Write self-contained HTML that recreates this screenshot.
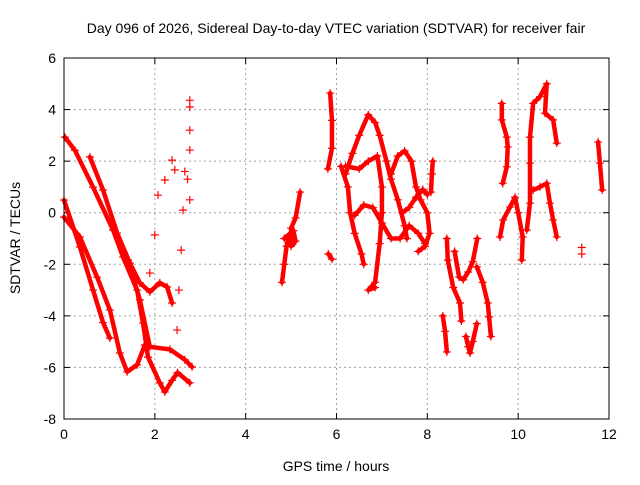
<!DOCTYPE html>
<html><head><meta charset="utf-8"><style>
body{margin:0;background:#fff}
svg text{font-family:"Liberation Sans",sans-serif;font-size:14px;fill:#000}
</style></head><body>
<svg id="chart" width="640" height="480" xmlns="http://www.w3.org/2000/svg">
<rect width="640" height="480" fill="#fff"/>
<text x="336" y="33" text-anchor="middle">Day 096 of 2026, Sidereal Day-to-day VTEC variation (SDTVAR) for receiver fair</text>
<text x="336" y="471" text-anchor="middle">GPS time / hours</text>
<text x="20" y="238" text-anchor="middle" transform="rotate(-90 20 238)">SDTVAR / TECUs</text>
<g id="grid"></g><g id="ticks"></g><g id="marks"></g>
<rect x="64" y="58" width="545" height="361" fill="none" stroke="#000" stroke-width="1"/>
</svg>
<script>
const xTicks=[0,2,4,6,8,10,12];
const yTicks=[-8,-6,-4,-2,0,2,4,6];
const trackA1=[[0.02,2.93],[0.24,2.42],[0.64,0.99],[1.08,-0.67],[1.3,-1.72],[1.61,-3.0],[1.74,-4.28],[1.85,-5.6],[2.11,-6.6],[2.22,-6.95],[2.38,-6.5],[2.5,-6.2],[2.77,-6.6]];
const trackA2=[[0.57,2.16],[0.86,0.88],[1.17,-0.79],[1.45,-1.95],[1.67,-2.72],[1.89,-3.07],[2.11,-2.72],[2.27,-2.88],[2.38,-3.5]];
const trackA3=[[1.41,-1.84],[1.67,-3.38],[1.89,-5.2],[2.33,-5.3],[2.66,-5.7],[2.82,-5.98]];
const trackB1=[[0.0,0.49],[0.35,-1.33],[0.64,-3.0],[0.86,-4.26],[1.01,-4.86]];
const trackB2=[[0.0,-0.17],[0.35,-0.94],[0.73,-2.5],[1.01,-3.77],[1.23,-5.44],[1.39,-6.17],[1.61,-5.9],[1.78,-5.13]];
const trackC=[[1.89,-2.34],[2.0,-0.86],[2.07,0.68],[2.22,1.27],[2.38,2.04],[2.44,1.66]];
const trackD=[[2.49,-4.55],[2.53,-3.0],[2.58,-1.45],[2.62,0.1],[2.66,1.6],[2.72,1.3],[2.77,0.5]];
const trackD2=[[2.77,4.36],[2.77,4.1],[2.77,3.2],[2.77,2.43]];
const trackE=[[4.8,-2.7],[4.85,-2.0],[4.9,-1.3],[4.95,-0.9],[4.85,-1.0],[5.05,-0.7],[5.1,-1.1],[5.0,-1.3],[5.0,-0.6],[5.1,-0.2],[5.2,0.8]];
const trackF=[[5.86,4.64],[5.9,3.58],[5.9,2.5],[5.81,1.7]];
const trackF2=[[5.82,-1.6],[5.9,-1.8]];
const trackG1=[[6.1,1.8],[6.25,1.0],[6.3,0],[6.4,-0.8],[6.55,-1.6],[6.6,-2.0]];
const trackG2=[[6.2,1.5],[6.35,2.3],[6.5,3.0],[6.7,3.8],[6.85,3.5],[6.95,3.0],[7.1,2.0],[7.2,1.3],[7.35,0.5],[7.5,-0.5],[7.55,-1.0]];
const trackG3=[[6.2,1.8],[6.5,1.7],[6.7,2.0],[6.9,2.2],[7.0,1.0],[7.0,0],[6.95,-1.2],[6.85,-2.7],[6.7,-3.0],[6.85,-2.9]];
const trackG4=[[6.4,-0.1],[6.6,0.3],[6.8,0.2],[7.0,-0.4],[7.2,-1.0],[7.4,-1.0],[7.6,-0.5],[7.8,-0.8],[7.95,-1.2]];
const trackG5=[[7.2,1.5],[7.35,2.2],[7.5,2.4],[7.65,2.0],[7.75,1.0],[7.85,0.5],[8.0,0],[8.05,-0.8],[7.95,-1.3],[7.8,-1.5]];
const trackG6=[[7.45,0],[7.6,0.2],[7.75,0.6],[7.9,0.9],[8.0,0.7]];
const trackH=[[8.12,2.0],[8.1,1.5],[8.08,0.8]];
const trackI1=[[8.34,-4.0],[8.39,-4.6],[8.43,-5.4]];
const trackI2=[[8.43,-1.0],[8.45,-1.84],[8.57,-2.9],[8.72,-3.5],[8.75,-4.2]];
const trackI3=[[8.6,-1.5],[8.7,-2.5],[8.79,-2.6],[8.9,-2.3],[9.0,-1.9],[9.1,-1.0]];
const trackI4=[[8.85,-4.8],[8.9,-5.2],[8.94,-5.44],[9.0,-5.0],[9.09,-4.3]];
const trackI5=[[9.09,-2.1],[9.22,-2.7],[9.33,-3.5],[9.36,-4.04],[9.4,-4.8]];
const trackJ=[[9.64,4.24],[9.64,3.6],[9.75,2.93],[9.77,2.55],[9.75,1.78],[9.66,1.14]];
const trackK=[[9.6,-0.94],[9.67,-0.28],[9.82,0.22],[9.93,0.6],[10.0,0],[10.1,-0.94],[10.08,-1.84]];
const trackL=[[10.19,-0.67],[10.26,0.37],[10.26,1.92],[10.26,2.93],[10.33,4.24],[10.48,4.5],[10.63,5.0],[10.59,3.86],[10.77,3.6],[10.85,2.7]];
const trackM=[[10.33,0.88],[10.48,1.0],[10.63,1.14],[10.7,0.37],[10.77,-0.28],[10.85,-0.94]];
const trackN=[[11.4,-1.35],[11.4,-1.6]];
const trackO=[[11.76,2.74],[11.8,1.92],[11.85,0.88]];
const tracks=[trackA1,trackA2,trackA3,trackB1,trackB2,trackC,trackD,trackD2,trackE,trackF,trackF2,trackG1,trackG2,trackG3,trackG4,trackG5,trackG6,trackH,trackI1,trackI2,trackI3,trackI4,trackI5,trackJ,trackK,trackL,trackM,trackN,trackO];
const sparse=[trackC,trackD,trackD2,trackN];
const NS="http://www.w3.org/2000/svg";
const X0=64,X1=609,Y0=419,Y1=58;
function xs(h){return X0+(h-0)/(12-0)*(X1-X0);}
function ys(v){return Y0-(v-(-8))/(6-(-8))*(Y0-Y1);}
const grid=document.getElementById('grid'),ticks=document.getElementById('ticks'),marks=document.getElementById('marks');
function mk(tag,attrs,parent){const e=document.createElementNS(NS,tag);for(const k in attrs)e.setAttribute(k,attrs[k]);parent.appendChild(e);return e;}
xTicks.forEach(t=>{const x=xs(t);
 if(t>0&&t<12){const g=mk('line',{x1:x,x2:x,y1:Y1,y2:Y0,stroke:'#a0a0a0','stroke-dasharray':'2,3'},grid);
 
 }
 mk('line',{x1:x,x2:x,y1:Y0,y2:Y0-6,stroke:'#000'},ticks);mk('line',{x1:x,x2:x,y1:Y1,y2:Y1+6,stroke:'#000'},ticks);
 const l=mk('text',{x:x,y:Y0+20,'text-anchor':'middle'},ticks);l.textContent=t;
 
 });
yTicks.forEach(t=>{const y=ys(t);
 if(t>-8&&t<6){const g=mk('line',{x1:X0,x2:X1,y1:y,y2:y,stroke:'#a0a0a0','stroke-dasharray':'2,3'},grid);
 
 }
 mk('line',{x1:X0,x2:X0+6,y1:y,y2:y,stroke:'#000'},ticks);mk('line',{x1:X1,x2:X1-6,y1:y,y2:y,stroke:'#000'},ticks);
 const l=mk('text',{x:X0-8,y:y+5,'text-anchor':'end'},ticks);l.textContent=t;
 
 });
tracks.forEach(tr=>{
 const g=mk('g',{},marks);
 
 
 if(sparse.indexOf(tr)<0){
  mk('polyline',{points:tr.map(p=>xs(p[0])+','+ys(p[1])).join(' '),fill:'none',stroke:'#f00','stroke-width':4.5,'stroke-linejoin':'round','stroke-linecap':'round'},g);
 }
 tr.forEach(p=>{const x=xs(p[0]),y=ys(p[1]);
  mk('path',{d:`M${x-4},${y}H${x+4}M${x},${y-4}V${y+4}`,stroke:'#f00','stroke-width':1.2},g);});
});
</script>
</body></html>
